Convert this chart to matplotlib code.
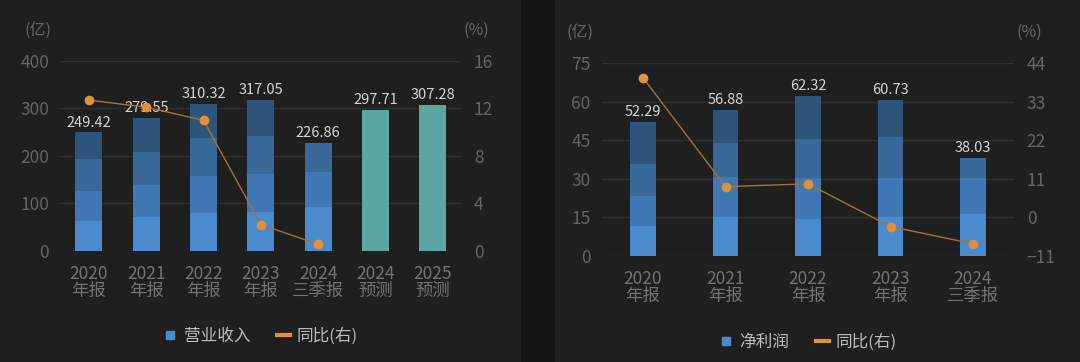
import matplotlib
matplotlib.use("Agg")
import matplotlib.pyplot as plt
from matplotlib.lines import Line2D
from matplotlib.patches import Rectangle
import numpy as np

plt.rcParams['font.family'] = ['Noto Sans CJK SC', 'DejaVu Sans']

# 营业收入 (亿), stacked by quarter
rev_cats = ["2020\n年报", "2021\n年报", "2022\n年报", "2023\n年报", "2024\n三季报", "2024\n预测", "2025\n预测"]
rev_q1 = [62.6, 70.3, 80.1, 81.0, 91.4]
rev_q2 = [63.9, 68.2, 77.4, 80.7, 73.8]
rev_q3 = [66.8, 68.9, 80.1, 80.1, 61.7]
rev_q4 = [56.1, 72.2, 72.7, 75.2, 0.0]
rev_total = [249.42, 279.55, 310.32, 317.05, 226.86]
rev_forecast = [297.71, 307.28]
rev_yoy = [12.7, 12.1, 11.0, 2.2, 0.55]

# 净利润 (亿), stacked by quarter
np_cats = ["2020\n年报", "2021\n年报", "2022\n年报", "2023\n年报", "2024\n三季报"]
np_q1 = [11.8, 15.1, 14.3, 15.1, 16.3]
np_q2 = [11.6, 15.8, 15.9, 15.1, 14.2]
np_q3 = [12.4, 13.0, 15.3, 16.3, 7.5]
np_q4 = [16.5, 13.0, 16.8, 14.2, 0.0]
np_total = [52.29, 56.88, 62.32, 60.73, 38.03]
np_yoy = [39.9, 8.8, 9.6, -2.6, -7.5]

q_colors = ["#4a8bcd", "#3f78b4", "#386999", "#2d557c"]
teal = "#5aa7a2"
orange_line = "#a9702f"
orange_dot = "#e2903f"
bg = "#1f1f1f"
tick_c = "#666666"
xlab_c = "#737373"
val_c = "#d4d4d4"
leg_c = "#bdbdbd"

W, H = 1080, 362
fig = plt.figure(figsize=(W / 100, H / 100), dpi=100)
fig.patch.set_facecolor("#151515")
fig.patches.append(Rectangle((0, 0), 520 / W, 1, transform=fig.transFigure, color=bg, zorder=-10))
fig.patches.append(Rectangle((555 / W, 0), 525 / W, 1, transform=fig.transFigure, color=bg, zorder=-10))


def panel(rect, cats, quarters, totals, yoy, ylim, yticks, y2lim, y2ticks, bar_w,
          legend_name, legend_y, unit_y, forecast=None):
    ax = fig.add_axes(rect)
    ax.set_facecolor("none")
    n = len(cats)
    x = np.arange(n)
    xa = np.arange(len(totals))
    bottom = np.zeros(len(totals))
    for q, c in zip(quarters, q_colors):
        ax.bar(xa, q, bottom=bottom, width=bar_w, color=c, zorder=2)
        bottom += np.array(q)
    for xi, t in zip(xa, totals):
        ax.text(xi, t + ylim[1] * 0.015, f"{t:.2f}", ha="center", va="bottom",
                color=val_c, fontsize=10.5, zorder=3)
    if forecast is not None:
        xf = np.arange(len(totals), n)
        ax.bar(xf, forecast, width=bar_w, color=teal, zorder=2)
        for xi, t in zip(xf, forecast):
            ax.text(xi, t + ylim[1] * 0.015, f"{t:.2f}", ha="center", va="bottom",
                    color=val_c, fontsize=10.5, zorder=3)

    ax.set_xlim(-0.5, n - 0.5)
    ax.set_ylim(*ylim)
    ax.set_yticks(yticks)
    ax.set_xticks(x)
    ax.set_xticklabels(cats, linespacing=0.95)
    ax.grid(axis="y", color="#2f2f2f", lw=1, zorder=0)
    ax.set_axisbelow(True)
    for s in ax.spines.values():
        s.set_visible(False)
    ax.tick_params(axis="y", length=0, pad=8, labelsize=12.5, labelcolor=tick_c)
    ax.tick_params(axis="x", length=0, pad=10, labelsize=12.5, labelcolor=xlab_c)

    ax2 = ax.twinx()
    ax2.plot(xa, yoy, color=orange_line, lw=1.0, zorder=4)
    ax2.plot(xa, yoy, "o", color=orange_dot, ms=6, zorder=5)
    ax2.set_ylim(*y2lim)
    ax2.set_yticks(y2ticks)
    for s in ax2.spines.values():
        s.set_visible(False)
    ax2.tick_params(axis="y", length=0, pad=9, labelsize=12.5, labelcolor=tick_c)

    l, b, w, h = rect
    fig.text(l - 22 / W, unit_y, "(亿)", ha="center", va="center", color=tick_c, fontsize=11.5)
    fig.text(l + w + 15 / W, unit_y, "(%)", ha="center", va="center", color=tick_c, fontsize=11.5)

    handles = [
        Line2D([], [], marker="s", ls="none", color=q_colors[0], ms=6),
        Line2D([], [], color=orange_dot, lw=3),
    ]
    fig.legend(handles, [legend_name, "同比(右)"], loc="center",
               bbox_to_anchor=(l + w / 2, legend_y), ncol=2, frameon=False,
               fontsize=12, labelcolor=leg_c, handlelength=0.8, handletextpad=0.4,
               columnspacing=1.6)
    return ax


panel([60.3 / W, (H - 250.7) / H, 401 / W, 189.7 / H], rev_cats,
      [rev_q1, rev_q2, rev_q3, rev_q4], rev_total, rev_yoy,
      (0, 400), [0, 100, 200, 300, 400], (0, 16), [0, 4, 8, 12, 16], 0.47,
      "营业收入", (H - 336) / H, (H - 30) / H, forecast=rev_forecast)

panel([601.75 / W, (H - 256) / H, 412.5 / W, 192.7 / H], np_cats,
      [np_q1, np_q2, np_q3, np_q4], np_total, np_yoy,
      (0, 75), [0, 15, 30, 45, 60, 75], (-11, 44), [-11, 0, 11, 22, 33, 44], 0.315,
      "净利润", (H - 342) / H, (H - 32) / H)

fig.savefig("out.png", dpi=100, facecolor=fig.get_facecolor())
